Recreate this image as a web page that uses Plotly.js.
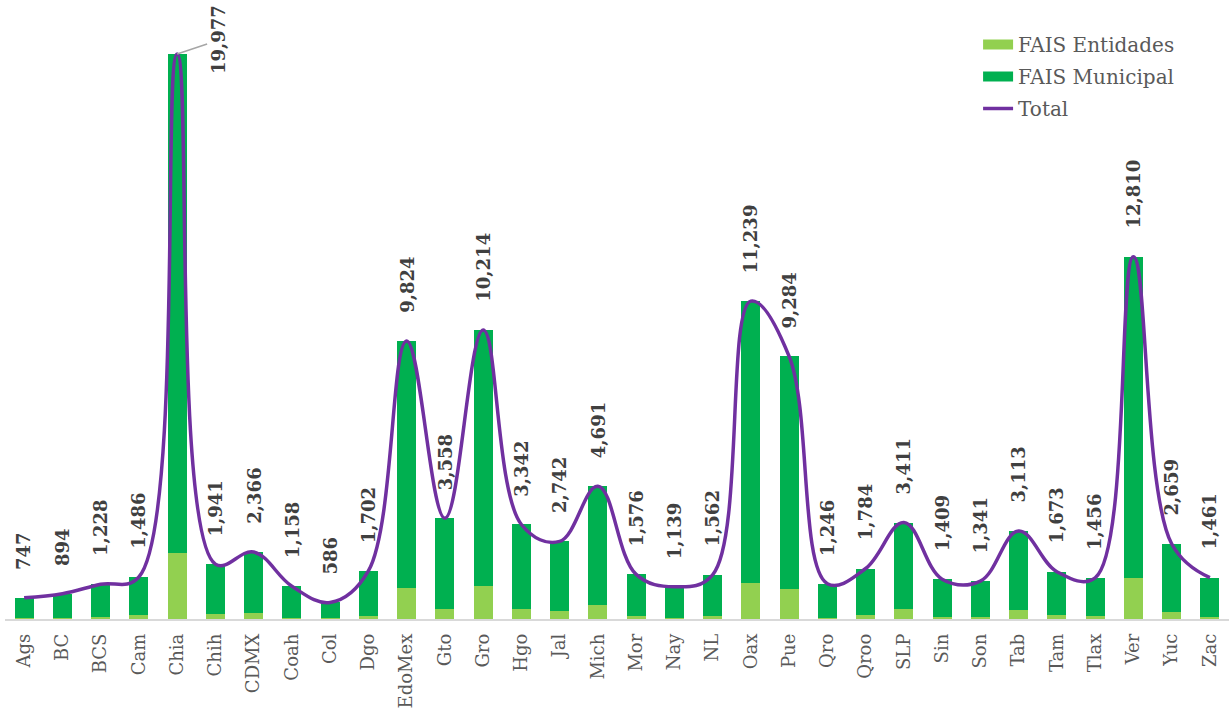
<!DOCTYPE html>
<html>
<head>
<meta charset="utf-8">
<script src="https://cdn.plot.ly/plotly-3.0.1.min.js"></script>
<style>html,body{margin:0;padding:0;background:#fff;}#chart{width:1229px;height:711px;}</style>
</head>
<body>
<div id="chart"></div>
<script>
const categories = ["Ags","BC","BCS","Cam","Chia","Chih","CDMX","Coah","Col","Dgo","EdoMex","Gto","Gro","Hgo","Jal","Mich","Mor","Nay","NL","Oax","Pue","Qro","Qroo","SLP","Sin","Son","Tab","Tam","Tlax","Ver","Yuc","Zac"];
const totals = [747,894,1228,1486,19977,1941,2366,1158,586,1702,9824,3558,10214,3342,2742,4691,1576,1139,1562,11239,9284,1246,1784,3411,1409,1341,3113,1673,1456,12810,2659,1461];
const entidades = [20,25,60,130,2330,180,220,40,30,120,1100,350,1170,350,280,500,100,50,100,1280,1060,40,140,350,70,70,320,140,100,1450,250,70];
const municipal = totals.map((t, i) => t - entidades[i]);

const fontFam = "'DejaVu Serif', 'Liberation Serif', serif";
const cLight = '#92D050', cDark = '#00B050', cLine = '#7030A0';

const traces = [
  {type: 'bar', name: 'FAIS Entidades', x: categories, y: entidades, marker: {color: cLight}, showlegend: false, hoverinfo: 'y'},
  {type: 'bar', name: 'FAIS Municipal', x: categories, y: municipal, marker: {color: cDark}, showlegend: false, hoverinfo: 'y'},
  {type: 'scatter', mode: 'lines', name: 'Total', x: categories, y: totals, showlegend: false,
   line: {color: cLine, width: 3.5, shape: 'spline', smoothing: 1.1}, hoverinfo: 'y'},
  // legend proxies (no data drawn)
  {type: 'scatter', mode: 'lines', name: 'FAIS Entidades', x: [null], y: [null], legendgroup: 'a', line: {color: cLight, width: 10}},
  {type: 'scatter', mode: 'lines', name: 'FAIS Municipal', x: [null], y: [null], legendgroup: 'b', line: {color: cDark, width: 10}},
  {type: 'scatter', mode: 'lines', name: 'Total', x: [null], y: [null], legendgroup: 'c', line: {color: cLine, width: 3.5}}
];

const fmt = v => v.toLocaleString('en-US');
const maxTotal = Math.max(...totals);
const annotations = categories.map((c, i) => {
  const base = {
    x: c, y: totals[i], xref: 'x', yref: 'y',
    text: '<b>' + fmt(totals[i]) + '</b>',
    textangle: -90,
    font: {family: fontFam, size: 18, color: '#404040'}
  };
  if (totals[i] === maxTotal) {
    return Object.assign(base, {showarrow: true, arrowhead: 0, arrowwidth: 1.5, arrowcolor: '#a6a6a6', ax: 42, ay: -14, standoff: 0});
  }
  return Object.assign(base, {showarrow: false, yanchor: 'bottom', yshift: 26});
});

const layout = {
  width: 1229, height: 711,
  margin: {l: 5, r: 0, t: 25, b: 92},
  paper_bgcolor: '#ffffff', plot_bgcolor: '#ffffff',
  barmode: 'stack', bargap: 0.5,
  showlegend: true,
  legend: {x: 0.795, y: 1.0, xanchor: 'left', yanchor: 'top', traceorder: 'grouped', tracegroupgap: 3,
           font: {family: fontFam, size: 20, color: '#595959'}, bgcolor: 'rgba(0,0,0,0)'},
  xaxis: {type: 'category', tickangle: -90, showline: true, linecolor: '#d9d9d9', linewidth: 1.5,
          ticks: '', showgrid: false, zeroline: false, ticklabelstandoff: 6,
          tickfont: {family: fontFam, size: 18, color: '#595959'}},
  yaxis: {range: [0, 21000], visible: false, showgrid: false, zeroline: false},
  annotations: annotations
};

Plotly.newPlot('chart', traces, layout, {displayModeBar: false, staticPlot: true});
</script>
</body>
</html>
